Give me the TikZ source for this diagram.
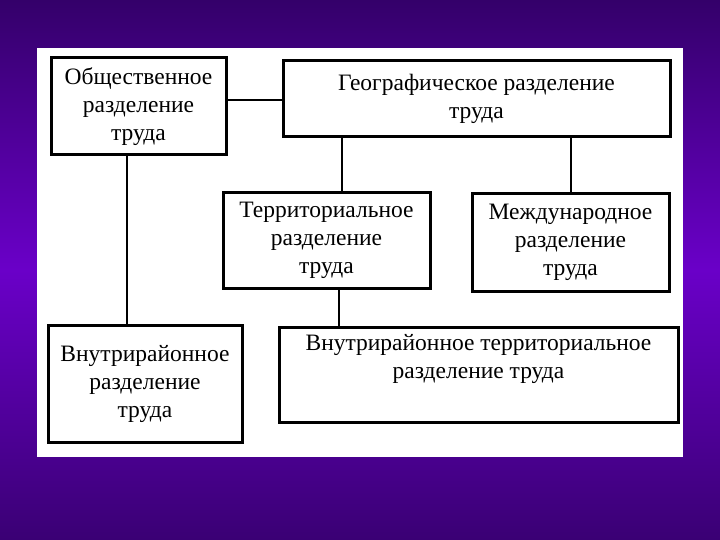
\documentclass[tikz,border=0pt]{standalone}
\usepackage{fontspec}
\setmainfont{Liberation Serif}
\definecolor{bgtop}{HTML}{34006A}
\definecolor{bgmid}{HTML}{6A00C8}
\definecolor{bgbot}{HTML}{3A0074}
\tikzset{
  box/.style={draw=black, line width=3pt, fill=white, align=center, inner sep=0pt,
    font=\fontsize{23.5}{28}\selectfont},
  link/.style={draw=black, line width=2.6pt}
}
\begin{document}
\begin{tikzpicture}[x=1pt,y=-1pt]
\useasboundingbox (0,0) rectangle (720,540);
\shade[top color=bgtop, bottom color=bgbot, middle color=bgmid, shading angle=0] (0,0) rectangle (720,540);
\fill[white] (37,48) rectangle (683,457);
% boxes
\node[box, minimum width=175, minimum height=97] (obsh) at (138.5,106.5) {Общественное\\разделение\\труда};
\node[box, minimum width=387, minimum height=76] (geo) at (476.5,99) {Географическое разделение\\труда};
\node[box, minimum width=207, minimum height=95] (terr) at (326.5,240.5) {Территориальное\\разделение\\труда};
\node[box, minimum width=197, minimum height=97] (mezh) at (570.5,242.5) {Международное\\разделение\\труда};
\node[box, minimum width=194, minimum height=117] (vnr) at (145,383.5) {Внутрирайонное\\разделение\\труда};
\node[box, minimum width=399, minimum height=95] (vnt) at (478.5,374.5) {Внутрирайонное территориальное\\разделение труда\\\strut};
% connectors
\draw[link] (obsh.east |- 0,100) -- (geo.west |- 0,100);
\draw[link] (geo.south -| 342,0) -- (terr.north -| 342,0);
\draw[link] (geo.south -| 571,0) -- (mezh.north -| 571,0);
\draw[link] (obsh.south -| 127,0) -- (vnr.north -| 127,0);
\draw[link] (terr.south -| 339,0) -- (vnt.north -| 339,0);
\end{tikzpicture}
\end{document}
